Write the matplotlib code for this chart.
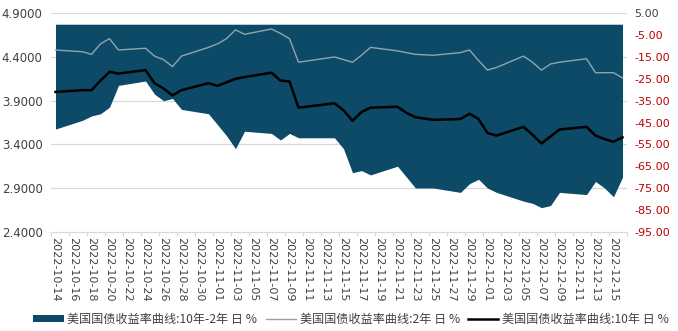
import matplotlib
matplotlib.use("Agg")
import matplotlib.pyplot as plt
import numpy as np
import datetime as dt
from matplotlib.patches import Patch
from matplotlib.lines import Line2D

# ---- data ----
dates = ["2022-10-14", "2022-10-17", "2022-10-18", "2022-10-19", "2022-10-20", "2022-10-21",
         "2022-10-24", "2022-10-25", "2022-10-26", "2022-10-27", "2022-10-28",
         "2022-10-31", "2022-11-01", "2022-11-02", "2022-11-03", "2022-11-04",
         "2022-11-07", "2022-11-08", "2022-11-09", "2022-11-10",
         "2022-11-14", "2022-11-15", "2022-11-16", "2022-11-17", "2022-11-18",
         "2022-11-21", "2022-11-22", "2022-11-23", "2022-11-25",
         "2022-11-28", "2022-11-29", "2022-11-30", "2022-12-01", "2022-12-02",
         "2022-12-05", "2022-12-06", "2022-12-07", "2022-12-08", "2022-12-09",
         "2022-12-12", "2022-12-13", "2022-12-14", "2022-12-15", "2022-12-16"]

yield_2y = [4.48, 4.46, 4.43, 4.55, 4.61, 4.48,
            4.50, 4.41, 4.37, 4.29, 4.41,
            4.51, 4.55, 4.61, 4.71, 4.66,
            4.72, 4.67, 4.61, 4.34,
            4.40, 4.37, 4.34, 4.42, 4.51,
            4.47, 4.45, 4.43, 4.42,
            4.45, 4.48, 4.36, 4.25, 4.28,
            4.41, 4.34, 4.25, 4.32, 4.34,
            4.38, 4.22, 4.22, 4.22, 4.16]

yield_10y = [4.00, 4.02, 4.02, 4.13, 4.23, 4.21,
             4.25, 4.10, 4.04, 3.96, 4.02,
             4.10, 4.07, 4.11, 4.15, 4.17,
             4.22, 4.13, 4.12, 3.82,
             3.87, 3.79, 3.67, 3.77, 3.82,
             3.83, 3.76, 3.71, 3.68,
             3.69, 3.75, 3.69, 3.53, 3.50,
             3.60, 3.51, 3.41, 3.49, 3.57,
             3.60, 3.50, 3.46, 3.43, 3.48]

spread_bp = [-48, -44, -42, -41, -38, -28,
             -26, -32, -35, -34, -39,
             -41, -46, -51, -57, -49,
             -50, -53, -50, -52,
             -52, -57, -68, -67, -69,
             -65, -70, -75, -75,
             -77, -73, -71, -75, -77,
             -81, -82, -84, -83, -77,
             -78, -72, -75, -79, -70]

left_ticks = [2.4, 2.9, 3.4, 3.9, 4.4, 4.9]
right_ticks = [5, -5, -15, -25, -35, -45, -55, -65, -75, -85, -95]

labels = ["美国国债收益率曲线:10年-2年 日 %", "美国国债收益率曲线:2年 日 %", "美国国债收益率曲线:10年 日 %"]

# ---- layout / style ----
area_color = "#0c4a67"
line2_color = "#8fa6ae"
line10_color = "#000000"
grid_color = "#d9d9d9"
text_color = "#404040"
red = "#c00000"

start = dt.date(2022, 10, 14)
end = dt.date(2022, 12, 16)
parsed = [dt.date.fromisoformat(s) for s in dates]
x = np.array([(d - start).days for d in parsed])
ndays = (end - start).days

fig = plt.figure(figsize=(6.78, 3.31), dpi=100)
ax2 = fig.add_axes([0.0752, 0.300, 0.8496, 0.6598])   # area (right scale) + x axis
ax = ax2.twinx()                                       # lines (left scale)
ax.yaxis.tick_left()
ax2.yaxis.tick_right()
ax.set_zorder(ax2.get_zorder() + 1)
ax.patch.set_visible(False)

ax2.set_xlim(-0.5, ndays + 0.5)
ax.set_ylim(2.4, 4.9)
ax2.set_ylim(-95, 5)

# gridlines at left-axis ticks (drawn behind the area)
for v in left_ticks[1:]:
    rv = 5 + (v - 4.9) / 2.5 * 100
    ax2.axhline(rv, color=grid_color, lw=0.9, zorder=0)

ax2.fill_between(x, 0, spread_bp, color=area_color, lw=0, zorder=2)
ax.plot(x, yield_2y, color=line2_color, lw=1.0, zorder=3)
ax.plot(x, yield_10y, color=line10_color, lw=1.8, zorder=4)

for a in (ax, ax2):
    for s in a.spines.values():
        s.set_visible(False)
ax2.spines["bottom"].set_visible(True)
ax2.spines["bottom"].set_color(grid_color)
ax2.spines["bottom"].set_linewidth(0.9)

# left y axis
ax.set_yticks(left_ticks)
ax.set_yticklabels([f"{v:.4f}" for v in left_ticks], fontsize=8.5, color=text_color)
ax.tick_params(axis="y", length=0, pad=6)

# right y axis
ax2.set_yticks(right_ticks)
ax2.set_yticklabels([f"{v:.2f}" for v in right_ticks], fontsize=8)
for lab, v in zip(ax2.get_yticklabels(), right_ticks):
    lab.set_color(text_color if v >= 0 else red)
ax2.tick_params(axis="y", length=0, pad=5)

# x axis: labels every 2 days, tick marks at slot boundaries
lab_pos = list(range(0, ndays, 2))
lab_txt = [(start + dt.timedelta(days=int(p))).isoformat() for p in lab_pos]
ax2.set_xticks(lab_pos)
ax2.set_xticklabels(lab_txt, rotation=-90, fontsize=8, color=text_color)
ax2.tick_params(axis="x", length=0, pad=4)
ax2.set_xticks([p - 0.5 for p in range(0, ndays + 2, 2)], minor=True)
ax2.tick_params(axis="x", which="minor", length=3, color=grid_color, width=0.8)

# legend
handles = [Patch(facecolor=area_color, edgecolor="none"),
           Line2D([], [], color="#a0a0a0", lw=1.0),
           Line2D([], [], color=line10_color, lw=1.8)]
fig.legend(handles, labels, loc="center", bbox_to_anchor=(0.518, 0.035), ncol=3,
           frameon=False, handlelength=2.5, handleheight=0.6, handletextpad=0.3,
           columnspacing=0.7,
           prop={"family": ["Noto Sans CJK SC", "DejaVu Sans"], "size": 8.7},
           labelcolor=text_color)

fig.savefig("out.png", dpi=100)
